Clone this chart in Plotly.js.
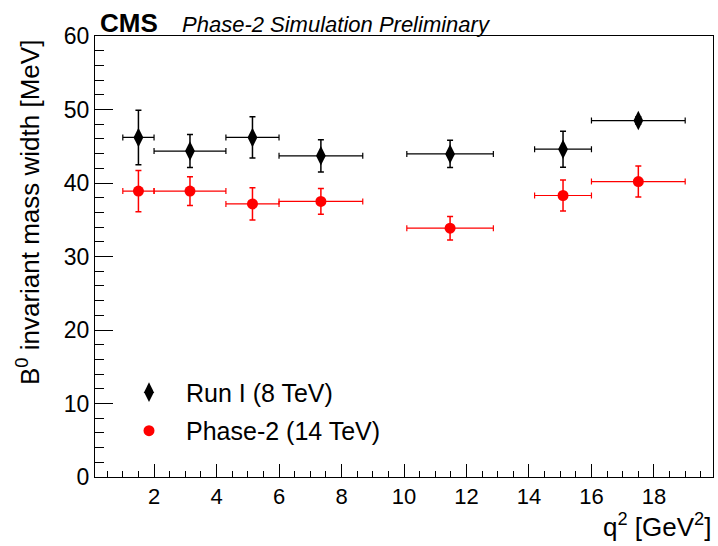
<!DOCTYPE html>
<html>
<head>
<meta charset="utf-8">
<script src="https://cdn.plot.ly/plotly-3.0.1.min.js"></script>
<style>html,body{margin:0;padding:0;background:#fff}#chart{width:718px;height:546px}</style>
</head>
<body>
<div id="chart"></div>
<script>
// q^2 bin edges [GeV^2]
var binLow  = [1.0, 2.0, 4.3, 6.0, 10.09, 14.18, 16.0];
var binHigh = [2.0, 4.3, 6.0, 8.68, 12.86, 16.0, 19.0];
// Run I (8 TeV) widths [MeV] and errors
var run1Width = [46.2, 44.35, 46.2, 43.7, 43.95, 44.6, 48.5];
var run1Err   = [3.7, 2.25, 2.8, 2.2, 1.85, 2.45, 0.5];
// Phase-2 (14 TeV) widths [MeV] and errors
var ph2Width = [38.9, 38.9, 37.15, 37.5, 33.85, 38.3, 40.2];
var ph2Err   = [2.8, 1.95, 2.2, 1.75, 1.6, 2.1, 2.1];

var xCenter = binLow.map(function(l, i){ return (l + binHigh[i]) / 2; });
var xHalf = binLow.map(function(l, i){ return (binHigh[i] - l) / 2; });

var font = "Liberation Sans, Arial, Helvetica, sans-serif";

var traces = [
  {
    x: xCenter, y: run1Width, type: 'scatter', mode: 'markers', name: 'Run I (8 TeV)', legendgroup: 'a',
    marker: {symbol: 'diamond-tall', size: 14, color: '#000'},
    error_y: {type: 'data', array: run1Err, visible: true, color: '#000', thickness: 1.5, width: 3},
    error_x: {type: 'data', array: xHalf, visible: true, color: '#000', thickness: 1.2, width: 3}
  },
  {
    x: xCenter, y: ph2Width, type: 'scatter', mode: 'markers', name: 'Phase-2 (14 TeV)', legendgroup: 'b',
    marker: {symbol: 'circle', size: 11, color: '#ff0000'},
    error_y: {type: 'data', array: ph2Err, visible: true, color: '#ff0000', thickness: 1.5, width: 3},
    error_x: {type: 'data', array: xHalf, visible: true, color: '#ff0000', thickness: 1.2, width: 3}
  }
];

var layout = {
  width: 718, height: 546,
  margin: {l: 95, r: 5, t: 36, b: 69},
  paper_bgcolor: '#fff', plot_bgcolor: '#fff',
  font: {family: font, size: 22, color: '#000'},
  showlegend: true,
  legend: {x: 0.0275, y: 0.244, xanchor: 'left', yanchor: 'top', bgcolor: 'rgba(0,0,0,0)',
           font: {family: font, size: 25}, itemwidth: 64, tracegroupgap: 3},
  xaxis: {
    range: [0.11, 19.89], showgrid: false, zeroline: false,
    showline: true, linecolor: '#000', linewidth: 1, mirror: true,
    ticks: 'inside', ticklen: 13, tickcolor: '#000', tickwidth: 1,
    dtick: 2, tick0: 0, tickfont: {family: font, size: 22},
    minor: {dtick: 0.5, ticklen: 6, tickcolor: '#000', ticks: 'inside', showgrid: false},
    fixedrange: true
  },
  yaxis: {
    range: [0, 60], showgrid: false, zeroline: false,
    showline: true, linecolor: '#000', linewidth: 1, mirror: true,
    ticks: 'inside', ticklen: 18, tickcolor: '#000', tickwidth: 1,
    dtick: 10, tick0: 0, tickfont: {family: font, size: 23},
    minor: {dtick: 2, ticklen: 9, tickcolor: '#000', ticks: 'inside', showgrid: false},
    fixedrange: true
  },
  annotations: [
    {text: '<b>CMS</b>', xref: 'paper', yref: 'paper', x: 0.0, y: 1.0, xanchor: 'left', yanchor: 'bottom',
     showarrow: false, font: {family: font, size: 26}, xshift: 3, yshift: -4},
    {text: '<i>Phase-2 Simulation Preliminary</i>', xref: 'paper', yref: 'paper', x: 0.137, y: 1.0,
     xanchor: 'left', yanchor: 'bottom', showarrow: false, font: {family: font, size: 22}, yshift: -3},
    {text: 'q<sup>2</sup> [GeV<sup>2</sup>]', xref: 'paper', yref: 'paper', x: 1.0, y: 0, xanchor: 'right', yanchor: 'top',
     showarrow: false, font: {family: font, size: 26}, yshift: -30},
    {text: 'B<sup>0</sup> invariant mass width [MeV]', xref: 'paper', yref: 'paper', x: 0, y: 1, xanchor: 'right', yanchor: 'top',
     textangle: -90, showarrow: false, font: {family: font, size: 26}, xshift: -48, yshift: -2}
  ]
};

Plotly.newPlot('chart', traces, layout, {displayModeBar: false, staticPlot: true});
</script>
</body>
</html>
